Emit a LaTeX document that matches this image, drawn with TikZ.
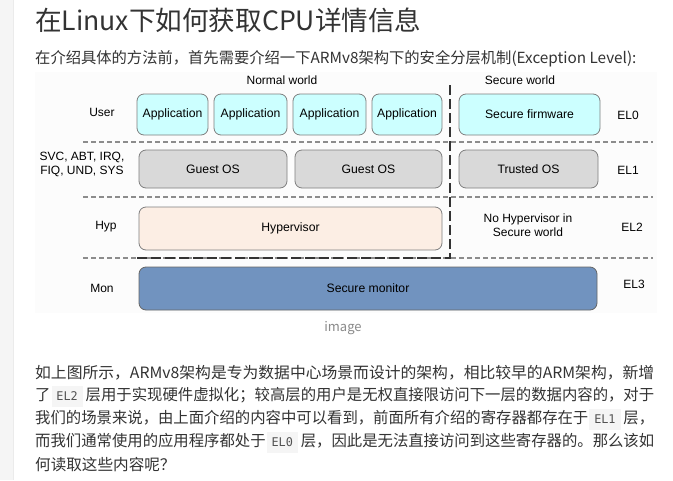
\documentclass[tikz,border=0pt]{standalone}
\usepackage{fontspec}
\usepackage{graphicx}
\setmainfont{Noto Sans CJK SC}
\newfontfamily\arialf{Liberation Sans}
\newfontfamily\monof{DejaVu Sans Mono}
\definecolor{txt}{HTML}{333333}
\definecolor{appfill}{HTML}{CCFFFF}
\definecolor{osfill}{HTML}{D9D9D9}
\definecolor{hypfill}{HTML}{FCEEE4}
\definecolor{monfill}{HTML}{7193BF}
\definecolor{boxline}{HTML}{7F7F7F}
\definecolor{dashgray}{HTML}{8C8C8C}
\definecolor{capgray}{HTML}{8A8A8A}
\definecolor{codebg}{HTML}{F5F5F5}
\definecolor{strip}{HTML}{F5F5F5}
\newcommand{\codebox}[1]{\hspace{1pt}{\setlength{\fboxsep}{0pt}\colorbox{codebg}{\hspace{5pt}\rule[-6.5pt]{0pt}{21pt}\monof\fontsize{12}{12}\selectfont\color{txt!85}#1\hspace{5pt}}}\hspace{3pt}}
\newcommand{\justline}[1]{\resizebox{619pt}{\height}{#1}}
\tikzset{
  elbox/.style={draw=boxline, line width=0.8pt, rounded corners=7pt, inner sep=0pt,
    font=\arialf\fontsize{12.2}{13}\selectfont, text=black},
  lbl/.style={font=\arialf\fontsize{12}{14}\selectfont, text=black, inner sep=0pt, align=center},
  thin dash/.style={draw=dashgray, line width=1.1pt, dash pattern=on 5pt off 3pt},
  thick dash/.style={draw=txt, line width=1.6pt, dash pattern=on 10pt off 4pt},
  bodyline/.style={anchor=west, inner sep=0pt, font=\fontsize{15.6}{16}\selectfont, text=txt},
}
\begin{document}
\begin{tikzpicture}[x=1pt,y=-1pt]
\useasboundingbox (0,0) rectangle (673,480);
\fill[white] (0,0) rectangle (673,480);
\fill[strip] (0,0) rectangle (13,480);
\draw[black!8] (13,0) -- (13,480);
% header
\node[anchor=west, inner sep=0pt, font=\fontsize{26.6}{27}\selectfont, text=txt] (title) at (35,20) {在Linux下如何获取CPU详情信息};
\node[anchor=west, inner sep=0pt, font=\fontsize{15.3}{16}\selectfont, text=txt] (sub) at (35,59) {在介绍具体的方法前，首先需要介绍一下ARMv8架构下的安全分层机制(Exception Level):};
% diagram background
\fill[black!1] (35,72) rectangle (657,313);
% world labels
\node[lbl] (nw) at (282,80) {Normal world};
\node[lbl] (sw) at (520,80) {Secure world};
% row labels
\node[lbl] (user) at (102,112) {User};
\node[lbl, font=\arialf\fontsize{12}{14}\selectfont] (svc) at (82,164) {SVC, ABT, IRQ,\\FIQ, UND, SYS};
\node[lbl] (hyp) at (106,227) {Hyp};
\node[lbl] (mon) at (102,288) {Mon};
\node[lbl] (el0) at (628,115) {EL0};
\node[lbl] (el1) at (628,170) {EL1};
\node[lbl] (el2) at (632,227) {EL2};
\node[lbl] (el3) at (634,284) {EL3};
% dashed separators
\coordinate (l1a) at (83,142); \coordinate (l1b) at (653,142);
\coordinate (l2a) at (83,197); \coordinate (l2b) at (653,197);
\coordinate (l3a) at (83,258); \coordinate (l3b) at (653,258);
\coordinate (l3m) at (137,258); \coordinate (corner) at (450,258);
\coordinate (vtop) at (450,84);
\draw[thin dash] (l1a) -- (l1b);
\draw[thin dash] (l2a) -- (l2b);
\draw[thin dash] (l3a) -- (l3b);
\draw[thick dash] (l3m) -- (corner) -- (vtop);
% boxes
\node[elbox, fill=appfill, minimum width=71pt, minimum height=41pt] (a1) at (172.5,114.5) {Application};
\node[elbox, fill=appfill, minimum width=73pt, minimum height=41pt] (a2) at (250.5,114.5) {Application};
\node[elbox, fill=appfill, minimum width=73pt, minimum height=41pt] (a3) at (329.5,114.5) {Application};
\node[elbox, fill=appfill, minimum width=70pt, minimum height=41pt] (a4) at (407,114.5) {Application};
\node[elbox, fill=appfill, minimum width=141pt, minimum height=41pt] (sf) at (529.5,114.5) {Secure firmware};
\node[elbox, fill=osfill, minimum width=148pt, minimum height=38pt] (g1) at (213,169) {Guest OS};
\node[elbox, fill=osfill, minimum width=147pt, minimum height=38pt] (g2) at (368.5,169) {Guest OS};
\node[elbox, fill=osfill, minimum width=139pt, minimum height=38pt] (tos) at (528.5,169) {Trusted OS};
\node[elbox, fill=hypfill, minimum width=303pt, minimum height=43pt] (hv) at (290.5,228.5) {Hypervisor};
\node[lbl] (nohyp) at (528,225) {No Hypervisor in\\Secure world};
\node[elbox, fill=monfill, draw=black!60, minimum width=458pt, minimum height=43pt] (sm) at (368,288.5) {Secure monitor};
\node[inner sep=0pt, font=\fontsize{13}{13}\selectfont, text=capgray] (cap) at (343,328) {image};
% body text
\node[bodyline] (b1) at (35,373) {\justline{如上图所示，ARMv8架构是专为数据中心场景而设计的架构，相比较早的ARM架构，新增}};
\node[bodyline] (b2) at (35,396) {\justline{了\codebox{EL2}层用于实现硬件虚拟化；较高层的用户是无权直接限访问下一层的数据内容的，对于}};
\node[bodyline] (b3) at (35,419) {\justline{我们的场景来说，由上面介绍的内容中可以看到，前面所有介绍的寄存器都存在于\codebox{EL1}层，}};
\node[bodyline] (b4) at (35,442) {\justline{而我们通常使用的应用程序都处于\codebox{EL0}层，因此是无法直接访问到这些寄存器的。那么该如}};
\node[bodyline] (b5) at (35,465) {何读取这些内容呢？};
\end{tikzpicture}
\end{document}
